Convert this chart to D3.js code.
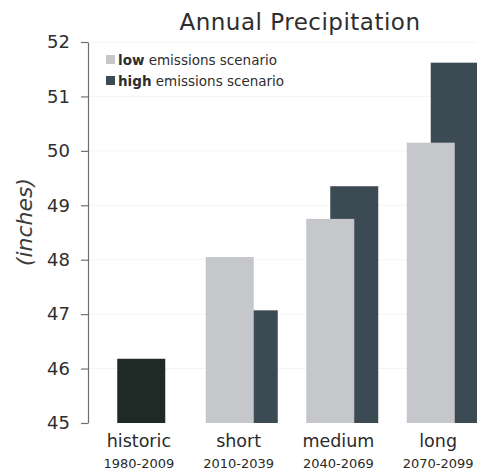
<!DOCTYPE html>
<html>
<head>
<meta charset="utf-8">
<script src="https://cdn.jsdelivr.net/npm/d3@7"></script>
<style>
  html, body { margin: 0; padding: 0; background: #fff; }
  svg { display: block; font-family: "DejaVu Sans", sans-serif; }
</style>
</head>
<body>
<svg id="chart" width="477" height="476"></svg>
<script>
const categories = ["historic", "short", "medium", "long"];
const periods = ["1980-2009", "2010-2039", "2040-2069", "2070-2099"];
const historicValue = [46.18, null, null, null];
const lowValues = [null, 48.05, 48.75, 50.15];
const highValues = [null, 47.07, 49.35, 51.62];
const yTicks = [45, 46, 47, 48, 49, 50, 51, 52];
const seriesNames = ["low", "high"];

const svg = d3.select("#chart");
const colors = { historic: "#1f2925", low: "#c5c7ca", high: "#3c4a54" };

const y = d3.scaleLinear().domain([45, 52]).range([423, 42]);
const x = d3.scaleBand().domain(categories).range([91, 493]).padding(0);
const xl = d3.scaleBand().domain(categories).range([89, 488]).padding(0);
const cx = d => x(d) + x.bandwidth() / 2;
const lx = d => xl(d) + xl.bandwidth() / 2;

// faint grid
svg.append("g").selectAll("line").data(yTicks.slice(1)).join("line")
  .attr("x1", 89).attr("x2", 477)
  .attr("y1", d => y(d)).attr("y2", d => y(d))
  .attr("stroke", "#f4f4f4").attr("stroke-width", 1);

const barW = 48;

// high bars (drawn first, underneath)
svg.append("g").selectAll("rect").data(categories.map((c, i) => ({c, v: highValues[i]})).filter(d => d.v != null))
  .join("rect")
  .attr("x", d => cx(d.c) - barW / 4)
  .attr("width", barW)
  .attr("y", d => y(d.v))
  .attr("height", d => y(45) - y(d.v))
  .attr("fill", colors.high);

// low bars
svg.append("g").selectAll("rect").data(categories.map((c, i) => ({c, v: lowValues[i]})).filter(d => d.v != null))
  .join("rect")
  .attr("x", d => cx(d.c) - barW * 3 / 4)
  .attr("width", barW)
  .attr("y", d => y(d.v))
  .attr("height", d => y(45) - y(d.v))
  .attr("fill", colors.low);

// historic bar
svg.append("g").selectAll("rect").data(categories.map((c, i) => ({c, v: historicValue[i]})).filter(d => d.v != null))
  .join("rect")
  .attr("x", d => cx(d.c) - barW / 2)
  .attr("width", barW)
  .attr("y", d => y(d.v))
  .attr("height", d => y(45) - y(d.v))
  .attr("fill", colors.historic);

// y axis
const yAxis = d3.axisLeft(y).tickValues(yTicks).tickFormat(d3.format("d"))
  .tickSize(7).tickPadding(11).tickSizeOuter(0);
const gy = svg.append("g").attr("transform", "translate(88,0)").call(yAxis);
gy.select(".domain").attr("stroke", "#6f6f6f").attr("stroke-width", 1.2);
gy.selectAll(".tick line").attr("stroke", "#6f6f6f").attr("stroke-width", 1.2);
gy.selectAll(".tick text").attr("font-size", 18).attr("fill", "#2e2e2e")
  .attr("font-family", '"DejaVu Sans", sans-serif');

// y axis label
svg.append("text")
  .attr("transform", "translate(32,222) rotate(-90)")
  .attr("text-anchor", "middle")
  .attr("font-size", 22).attr("font-style", "italic")
  .attr("fill", "#3a3a3a")
  .text("(inches)");

// x labels
const gx = svg.append("g");
gx.selectAll("text.cat").data(categories).join("text")
  .attr("class", "cat")
  .attr("x", d => lx(d))
  .attr("y", 447)
  .attr("text-anchor", "middle")
  .attr("font-size", 17.5).attr("fill", "#2a2a2a")
  .text(d => d);
gx.selectAll("text.per").data(categories).join("text")
  .attr("class", "per")
  .attr("x", d => lx(d))
  .attr("y", 468)
  .attr("text-anchor", "middle")
  .attr("font-size", 13).attr("fill", "#2a2a2a")
  .text((d, i) => periods[i]);

// title
svg.append("text")
  .attr("x", 300).attr("y", 30)
  .attr("text-anchor", "middle")
  .attr("font-size", 23).attr("letter-spacing", 0.5).attr("fill", "#2e2e2e")
  .text("Annual Precipitation");

// legend
const legend = svg.append("g");
seriesNames.forEach((s, i) => {
  const ly = 55 + i * 21;
  legend.append("rect").attr("x", 106).attr("y", ly).attr("width", 9).attr("height", 9)
    .attr("fill", colors[s]);
  const t = legend.append("text").attr("x", 118).attr("y", ly + 10)
    .attr("font-size", 13.5).attr("fill", "#2e2e2e");
  t.append("tspan").attr("font-weight", "bold").text(s);
  t.append("tspan").text(" emissions scenario");
});
</script>
</body>
</html>
